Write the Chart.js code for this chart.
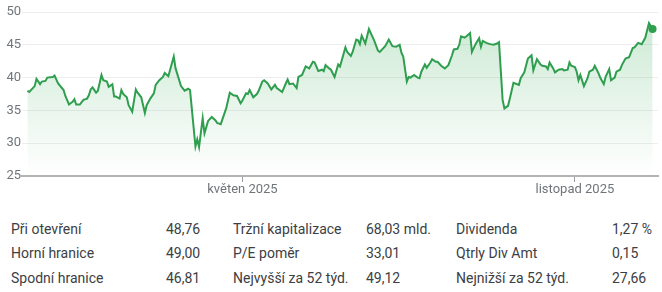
<!DOCTYPE html>
<html lang="cs">
<head>
<meta charset="utf-8">
<script src="https://cdn.jsdelivr.net/npm/chart.js@4/dist/chart.umd.min.js"></script>
<style>
  body { margin: 0; background: #fff; font-family: Roboto, "Noto Sans", sans-serif; }
  #obal { position: relative; width: 662px; height: 292px; overflow: hidden; }
  #graf { position: absolute; left: 0; top: 0; }
  .bunka { position: absolute; height: 24px; line-height: 24px; font-size: 14px; color: #3c4043; white-space: nowrap; }
</style>
</head>
<body>
<div id="obal">
  <canvas id="graf" width="662" height="200"></canvas>
  <div id="tabulka"></div>
</div>
<script>
// den v roce (1. 1. 2025 = 0) a zaviraci cena
const dny = [1,2,4,5,6,8,9,11,12,15,16,18,21,22,24,26,27,28,30,32,34,35,36,37,39,40,42,43,45,46,48,49,50,52,53,54,56,57,59,61,62,64,66,67,69,71,72,74,76,77,79,82,83,86,88,90,91,94,95,96,
  98,99,101,103,105,106,108,111,113,115,117,119,120,122,123,124,126,128,129,131,132,134,136,138,139,142,144,145,146,148,150,151,153,155,157,159,160,162,164,165,166,168,169,171,173,174,177,178,180,181,183,184,185,186,188,189,190,192,193,195,196,199,201,203,205,207,208,209,211,212,213,215,217,218,
  219,221,222,224,225,227,228,230,232,234,236,237,239,240,241,243,244,246,247,249,251,252,253,255,257,259,261,262,264,265,267,268,270,271,273,274,276,278,280,281,283,285,286,288,289,290,292,293,295,297,298,300,301,302,304,305,306,307,309,311,312,314,315,317,318,320,321,323,324,326,327,329,330,332,334,336,337,339,341,343,345,347];
const ceny = [38.0,37.8,38.4,38.7,39.8,39.0,39.4,39.5,40.0,40.1,40.3,39.1,38.1,37.2,35.9,36.3,36.7,35.9,35.9,36.6,36.8,37.3,38.2,38.5,37.7,38.0,40.4,39.6,39.4,38.6,39.0,37.1,37.1,36.8,38.1,37.5,37.0,35.8,34.8,38.2,37.7,37.0,34.6,35.8,36.8,37.6,38.9,39.6,40.1,40.7,40.2,43.2,41.4,38.7,38.0,38.3,38.1,29.5,30.6,29.4,
  33.8,31.5,33.4,34.0,33.5,33.1,32.9,35.3,37.7,37.3,37.2,36.1,36.5,37.6,37.5,38.1,37.0,37.5,38.0,39.4,39.6,39.1,38.2,38.9,38.4,37.8,39.1,39.7,39.0,39.1,38.4,40.1,40.4,41.7,41.4,42.4,42.3,41.0,41.2,41.0,41.9,41.4,41.2,40.1,42.0,41.7,44.6,43.9,43.3,43.9,45.8,45.7,45.1,46.4,45.2,46.3,47.4,46.2,45.6,44.1,43.9,44.8,45.8,44.8,44.7,45.0,43.8,43.2,39.4,40.1,40.0,40.4,40.0,39.9,
  40.9,42.0,41.5,42.3,42.8,42.4,42.4,41.8,41.4,41.9,43.4,44.3,44.4,45.0,46.3,46.1,46.3,46.8,43.9,45.1,46.0,44.7,45.6,45.3,45.1,45.0,45.2,45.4,36.6,35.3,35.7,36.8,39.2,39.1,38.9,39.9,40.8,42.9,43.4,41.1,42.8,42.0,41.8,41.7,41.3,42.3,41.4,40.8,41.2,41.3,41.1,41.2,42.3,41.8,41.6,40.9,39.6,40.4,38.7,39.9,40.9,41.2,41.8,40.7,40.0,39.0,40.1,41.3,39.6,40.0,40.9,41.2,41.9,42.9,43.1,44.5,44.6,45.3,45.1,46.1,48.3,47.4];

// popisky osy x (1. 5. a 1. 11.)
const tickDny = [120, 304];
const tickPopisky = ['květen 2025', 'listopad 2025'];

// tabulka pod grafem
const statPopisky = [
  ['Při otevření', 'Horní hranice', 'Spodní hranice'],
  ['Tržní kapitalizace', 'P/E poměr', 'Nejvyšší za 52 týd.'],
  ['Dividenda', 'Qtrly Div Amt', 'Nejnižší za 52 týd.']
];
const statHodnoty = [
  ['48,76', '49,00', '46,81'],
  ['68,03 mld.', '33,01', '49,12'],
  ['1,27 %', '0,15', '27,66']
];

const zelena = '#2f9e4f';
const sedaText = '#70757a';

function vyplnGradient(context) {
  const area = context.chart.chartArea;
  if (!area) return 'rgba(52,168,83,0.15)';
  const g = context.chart.ctx.createLinearGradient(0, area.top, 0, area.bottom);
  g.addColorStop(0, 'rgba(52,168,83,0.26)');
  g.addColorStop(1, 'rgba(52,168,83,0)');
  return g;
}

const ctx = document.getElementById('graf').getContext('2d');
new Chart(ctx, {
  type: 'line',
  data: {
    datasets: [{
      data: dny.map((d, i) => ({ x: d, y: ceny[i] })),
      borderColor: zelena,
      borderWidth: 2,
      backgroundColor: vyplnGradient,
      fill: 'origin',
      tension: 0,
      pointRadius: c => c.dataIndex === ceny.length - 1 ? 4 : 0,
      pointBackgroundColor: zelena,
      pointBorderWidth: 0
    }]
  },
  options: {
    responsive: false,
    animation: false,
    devicePixelRatio: 1,
    layout: { padding: { top: 12, right: 2, left: 0, bottom: 0 } },
    plugins: { legend: { display: false }, tooltip: { enabled: false } },
    scales: {
      x: {
        type: 'linear',
        min: -2,
        max: 350,
        afterBuildTicks: ax => { ax.ticks = tickDny.map(v => ({ value: v })); },
        afterFit: ax => { ax.height = 24; },
        ticks: {
          autoSkip: false,
          maxRotation: 0,
          padding: 0,
          color: sedaText,
          font: { family: 'Roboto', size: 13 },
          callback: (v, i) => tickPopisky[i]
        },
        grid: { drawOnChartArea: false, drawTicks: true, tickLength: 6, color: '#9aa0a6' },
        border: { color: '#b4b4b4', width: 2 }
      },
      y: {
        min: 25,
        max: 50,
        afterFit: ax => { ax.width = 22; },
        ticks: {
          stepSize: 5,
          padding: 1,
          color: sedaText,
          font: { family: 'Roboto', size: 13 }
        },
        grid: {
          drawTicks: false,
          color: c => c.tick.value === 25 ? 'rgba(0,0,0,0)' : '#eeeeee'
        },
        border: { display: false }
      }
    }
  }
});

// tabulka
const sloupceX = [[11, 166], [233, 366], [456, 612]];
const radkyY = [217, 241, 266];
const tabulka = document.getElementById('tabulka');
statPopisky.forEach((sloupec, s) => {
  sloupec.forEach((text, r) => {
    const a = document.createElement('div');
    a.className = 'bunka';
    a.style.left = sloupceX[s][0] + 'px';
    a.style.top = radkyY[r] + 'px';
    a.textContent = text;
    tabulka.appendChild(a);
    const b = document.createElement('div');
    b.className = 'bunka';
    b.style.left = sloupceX[s][1] + 'px';
    b.style.top = radkyY[r] + 'px';
    b.textContent = statHodnoty[s][r];
    tabulka.appendChild(b);
  });
});
</script>
</body>
</html>
